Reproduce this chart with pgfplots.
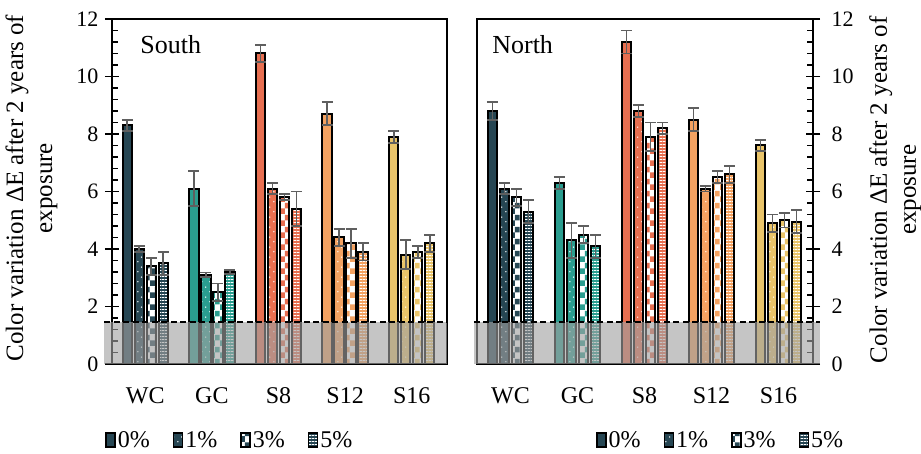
\documentclass[border=0pt]{standalone}
\usepackage{fontspec}
\setmainfont{Liberation Serif}
\usepackage{pgfplots}
\pgfplotsset{compat=1.18}
\usetikzlibrary{patterns.meta}

\definecolor{cwc}{RGB}{38,70,83}
\definecolor{cgc}{RGB}{42,157,143}
\definecolor{cseight}{RGB}{231,111,81}
\definecolor{cstwelve}{RGB}{244,162,97}
\definecolor{csixteen}{RGB}{233,196,106}
\definecolor{errg}{RGB}{95,95,95}

\tikzdeclarepattern{
  name=mydots, type=uncolored,
  bounding box={(0pt,0pt) and (8pt,10pt)},
  tile size={(8pt,10pt)},
  code={\fill (2pt,2.5pt) circle (0.8pt); \fill (6pt,7.5pt) circle (0.8pt);}
}
\tikzdeclarepattern{
  name=mycheck, type=uncolored,
  bounding box={(0pt,0pt) and (10pt,12pt)},
  tile size={(10pt,12pt)},
  code={\fill (0pt,0pt) rectangle (5pt,6pt); \fill (5pt,6pt) rectangle (10pt,12pt);}
}
\tikzdeclarepattern{
  name=myhl, type=uncolored,
  bounding box={(0pt,0pt) and (3pt,3pt)},
  tile size={(3pt,3pt)},
  code={\fill (0pt,0pt) rectangle (3pt,1pt);}
}

\pgfplotsset{
  p0/.style={ybar, bar width=9.5pt, bar shift=0pt, fill=#1, draw=black, line width=2pt},
  p1/.style={ybar, bar width=9.5pt, bar shift=0pt, preaction={fill=#1}, pattern=mydots, pattern color=white, draw=black, line width=2pt},
  p3/.style={ybar, bar width=9.5pt, bar shift=0pt, preaction={fill=white}, pattern=mycheck, pattern color=#1, draw=black, line width=2pt},
  p5/.style={ybar, bar width=9.5pt, bar shift=0pt, preaction={fill=#1}, pattern=myhl, pattern color=white, draw=black, line width=2pt},
  errs/.style={sharp plot, draw=none, mark=none,
    error bars/.cd, y dir=both, y explicit, error mark=-,
    error bar style={draw=errg, line width=1.8pt, solid},
    error mark options={rotate=90, draw=errg, line width=1.8pt, mark size=5.5pt}},
  legbox/.style={legend image code/.code={\draw[##1] (0pt,-7pt) rectangle (9pt,7pt);}},
  panel/.style={
    scale only axis, height=345pt, clip=false,
    ymin=0, ymax=12,
    xtick={0,1,2,3,4}, xticklabels={WC,GC,S8,S12,S16},
    ytick={0,2,4,6,8,10,12}, minor y tick num=4,
    axis line style={line width=1.8pt},
    tick align=center, major tick length=14pt, minor tick length=6pt,
    xtick style={draw=none},
    ytick style={black, line width=1.6pt},
    /pgf/number format/assume math mode=true,
    yticklabel style={font=\fontsize{22}{26}\selectfont},
    xticklabel style={font=\fontsize{24}{28}\selectfont, yshift=-13pt},
    ylabel={Color variation ΔE after 2 years of\\exposure},
    legend columns=4,
    legend style={draw=none, fill=none, inner sep=0pt, font=\fontsize{24}{28}\selectfont,
      /tikz/every even column/.append style={column sep=21pt}},
  },
}

\begin{document}
\begin{tikzpicture}
\useasboundingbox (0pt,0pt) rectangle (921pt,454pt);

% ---------------- South ----------------
\begin{axis}[panel,
  at={(112pt,90pt)}, anchor=south west, width=335pt,
  xmin=-0.5, xmax=4.53,
  ytick pos=left,
  minor y tick style={black, line width=1.6pt, xshift=3pt},
  yticklabel style={xshift=-3pt},
  ylabel style={at={(axis description cs:-0.24,0.51)}, anchor=center, rotate=0,
    font=\fontsize{25}{29}\selectfont, align=center},
  legend style={at={(axis description cs:-0.02,-0.22)}, anchor=west},
]
\addlegendimage{legbox, draw=black, line width=1.5pt, fill=cwc}
\addlegendentry{0\%}
\addlegendimage{legbox, draw=black, line width=1.5pt, preaction={fill=cwc}, pattern=mydots, pattern color=white}
\addlegendentry{1\%}
\addlegendimage{legbox, draw=black, line width=1.5pt, preaction={fill=white}, pattern=mycheck, pattern color=cwc}
\addlegendentry{3\%}
\addlegendimage{legbox, draw=black, line width=1.5pt, preaction={fill=cwc}, pattern=myhl, pattern color=white}
\addlegendentry{5\%}

% WC
\addplot[p0=cwc] coordinates {(-0.27,8.3)};
\addplot[p1=cwc] coordinates {(-0.09,4.0)};
\addplot[p3=cwc] coordinates {(0.09,3.4)};
\addplot[p5=cwc] coordinates {(0.27,3.5)};
% GC
\addplot[p0=cgc] coordinates {(0.73,6.1)};
\addplot[p1=cgc] coordinates {(0.91,3.1)};
\addplot[p3=cgc] coordinates {(1.09,2.5)};
\addplot[p5=cgc] coordinates {(1.27,3.2)};
% S8
\addplot[p0=cseight] coordinates {(1.73,10.8)};
\addplot[p1=cseight] coordinates {(1.91,6.1)};
\addplot[p3=cseight] coordinates {(2.09,5.8)};
\addplot[p5=cseight] coordinates {(2.27,5.4)};
% S12
\addplot[p0=cstwelve] coordinates {(2.73,8.7)};
\addplot[p1=cstwelve] coordinates {(2.91,4.4)};
\addplot[p3=cstwelve] coordinates {(3.09,4.2)};
\addplot[p5=cstwelve] coordinates {(3.27,3.9)};
% S16
\addplot[p0=csixteen] coordinates {(3.73,7.9)};
\addplot[p1=csixteen] coordinates {(3.91,3.8)};
\addplot[p3=csixteen] coordinates {(4.09,3.9)};
\addplot[p5=csixteen] coordinates {(4.27,4.2)};

% error bars (mean +- deviation)
\addplot[errs] coordinates {
  (-0.27,8.3) +- (0,0.2) (-0.09,4.0) +- (0,0.1) (0.09,3.4) +- (0,0.3) (0.27,3.5) +- (0,0.4)
  (0.73,6.1) +- (0,0.6) (0.91,3.1) +- (0,0.08) (1.09,2.5) +- (0,0.3) (1.27,3.2) +- (0,0.08)
  (1.73,10.8) +- (0,0.3) (1.91,6.1) +- (0,0.2) (2.09,5.8) +- (0,0.1) (2.27,5.4) +- (0,0.6)
  (2.73,8.7) +- (0,0.4) (2.91,4.4) +- (0,0.3) (3.09,4.2) +- (0,0.5) (3.27,3.9) +- (0,0.3)
  (3.73,7.9) +- (0,0.2) (3.91,3.8) +- (0,0.5) (4.09,3.9) +- (0,0.2) (4.27,4.2) +- (0,0.3)
};

\addplot[draw=none, fill=black!37, opacity=0.62] coordinates {(-0.616,1.45) (4.53,1.45)} \closedcycle;
\addplot[black, line width=1.7pt, dash pattern=on 6pt off 3.5pt] coordinates {(-0.616,1.45) (4.53,1.45)};

\node[anchor=base west, font=\fontsize{26}{30}\selectfont, inner sep=0pt] at (axis description cs:0.084,0.901) {South};
\end{axis}

% ---------------- North ----------------
\begin{axis}[panel,
  at={(477pt,90pt)}, anchor=south west, width=336pt,
  xmin=-0.5, xmax=4.515,
  ytick pos=right, yticklabel pos=right,
  minor y tick style={black, line width=1.6pt, xshift=-3pt},
  yticklabel style={xshift=8pt},
  ylabel style={at={(axis description cs:1.245,0.505)}, anchor=center, rotate=0,
    font=\fontsize{25}{29}\selectfont, align=center},
  legend style={at={(axis description cs:0.354,-0.22)}, anchor=west},
]
\addlegendimage{legbox, draw=black, line width=1.5pt, fill=cwc}
\addlegendentry{0\%}
\addlegendimage{legbox, draw=black, line width=1.5pt, preaction={fill=cwc}, pattern=mydots, pattern color=white}
\addlegendentry{1\%}
\addlegendimage{legbox, draw=black, line width=1.5pt, preaction={fill=white}, pattern=mycheck, pattern color=cwc}
\addlegendentry{3\%}
\addlegendimage{legbox, draw=black, line width=1.5pt, preaction={fill=cwc}, pattern=myhl, pattern color=white}
\addlegendentry{5\%}

% WC
\addplot[p0=cwc] coordinates {(-0.27,8.8)};
\addplot[p1=cwc] coordinates {(-0.09,6.1)};
\addplot[p3=cwc] coordinates {(0.09,5.8)};
\addplot[p5=cwc] coordinates {(0.27,5.3)};
% GC
\addplot[p0=cgc] coordinates {(0.73,6.3)};
\addplot[p1=cgc] coordinates {(0.91,4.3)};
\addplot[p3=cgc] coordinates {(1.09,4.5)};
\addplot[p5=cgc] coordinates {(1.27,4.1)};
% S8
\addplot[p0=cseight] coordinates {(1.73,11.2)};
\addplot[p1=cseight] coordinates {(1.91,8.8)};
\addplot[p3=cseight] coordinates {(2.09,7.9)};
\addplot[p5=cseight] coordinates {(2.27,8.2)};
% S12
\addplot[p0=cstwelve] coordinates {(2.73,8.5)};
\addplot[p1=cstwelve] coordinates {(2.91,6.1)};
\addplot[p3=cstwelve] coordinates {(3.09,6.5)};
\addplot[p5=cstwelve] coordinates {(3.27,6.6)};
% S16
\addplot[p0=csixteen] coordinates {(3.73,7.6)};
\addplot[p1=csixteen] coordinates {(3.91,4.9)};
\addplot[p3=csixteen] coordinates {(4.09,5.0)};
\addplot[p5=csixteen] coordinates {(4.27,4.95)};

\addplot[errs] coordinates {
  (-0.27,8.8) +- (0,0.3) (-0.09,6.1) +- (0,0.2) (0.09,5.8) +- (0,0.3) (0.27,5.3) +- (0,0.4)
  (0.73,6.3) +- (0,0.2) (0.91,4.3) +- (0,0.6) (1.09,4.5) +- (0,0.3) (1.27,4.1) +- (0,0.4)
  (1.73,11.2) +- (0,0.4) (1.91,8.8) +- (0,0.2) (2.09,7.9) +- (0,0.5) (2.27,8.2) +- (0,0.2)
  (2.73,8.5) +- (0,0.4) (2.91,6.1) +- (0,0.1) (3.09,6.5) +- (0,0.2) (3.27,6.6) +- (0,0.3)
  (3.73,7.6) +- (0,0.2) (3.91,4.9) +- (0,0.3) (4.09,5.0) +- (0,0.25) (4.27,4.95) +- (0,0.4)
};

\addplot[draw=none, fill=black!37, opacity=0.62] coordinates {(-0.545,1.45) (4.62,1.45)} \closedcycle;
\addplot[black, line width=1.7pt, dash pattern=on 6pt off 3.5pt] coordinates {(-0.545,1.45) (4.62,1.45)};

\node[anchor=base west, font=\fontsize{26}{30}\selectfont, inner sep=0pt] at (axis description cs:0.045,0.901) {North};
\end{axis}
\end{tikzpicture}
\end{document}
